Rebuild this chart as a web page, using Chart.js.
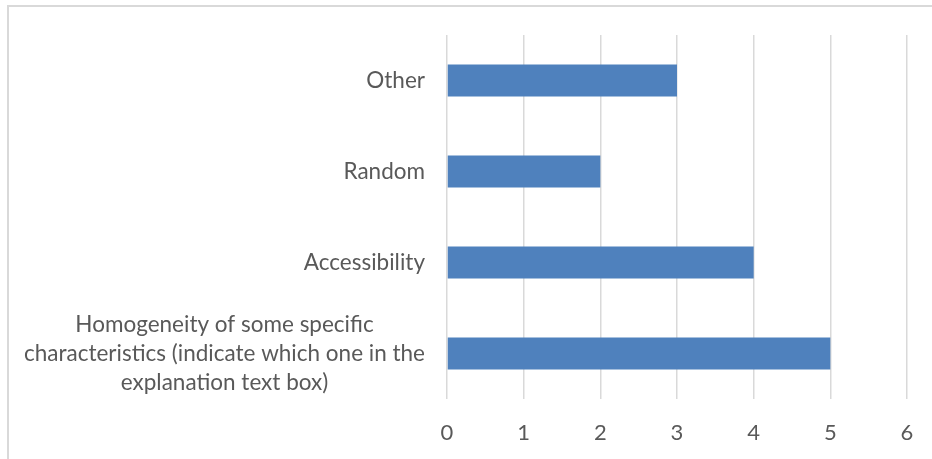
<!DOCTYPE html>
<html>
<head>
<meta charset="utf-8">
<script src="https://cdn.jsdelivr.net/npm/chart.js@4/dist/chart.umd.min.js"></script>
<style>
  html, body { margin: 0; padding: 0; background: #fff; }
  #wrap { width: 932px; height: 459px; position: relative; }
</style>
</head>
<body>
<div id="wrap"><canvas id="barChart" width="932" height="459"></canvas></div>
<script>
const categories = [
  'Other',
  'Random',
  'Accessibility',
  ['Homogeneity of some specific', 'characteristics (indicate which one in the', 'explanation text box)']
];
const counts = [3, 2, 4, 5];
const xTicks = [0, 1, 2, 3, 4, 5, 6];

const FONT = 'Lato, "Open Sans", sans-serif';
const TEXT = '#595959';
const GRID = '#d9d9d9';

// frame + centred multi-line category labels, like the office chart
const labelPlugin = {
  id: 'labels',
  beforeDraw(chart) {
    const ctx = chart.ctx;
    ctx.save();
    ctx.strokeStyle = GRID;
    ctx.lineWidth = 2;
    ctx.beginPath();
    ctx.moveTo(8, 459);
    ctx.lineTo(8, 6);
    ctx.lineTo(932, 6);
    ctx.stroke();
    ctx.restore();
  },
  afterDraw(chart) {
    const ctx = chart.ctx;
    const y = chart.scales.y;
    const right = chart.chartArea.left - 22;
    ctx.save();
    ctx.font = '22.5px ' + FONT;
    ctx.fillStyle = TEXT;
    ctx.textAlign = 'center';
    ctx.textBaseline = 'middle';
    const lineH = 29;
    categories.forEach((lab, i) => {
      const lines = Array.isArray(lab) ? lab : [lab];
      const w = Math.max(...lines.map(l => ctx.measureText(l).width));
      const cx = right - w / 2;
      const cy = y.getPixelForTick(i);
      lines.forEach((l, k) => {
        ctx.fillText(l, cx, cy + (k - (lines.length - 1) / 2) * lineH);
      });
    });
    ctx.restore();
  }
};

chart = new Chart(document.getElementById('barChart').getContext('2d'), {
  type: 'bar',
  data: {
    labels: categories,
    datasets: [{
      data: counts,
      backgroundColor: '#4f81bd',
      borderWidth: 0,
      barPercentage: 1,
      categoryPercentage: 0.35
    }]
  },
  options: {
    indexAxis: 'y',
    responsive: false,
    animation: false,
    layout: { padding: { top: 35, right: 25, left: 0, bottom: 0 } },
    plugins: {
      legend: { display: false },
      tooltip: { enabled: false }
    },
    scales: {
      x: {
        min: xTicks[0],
        max: xTicks[xTicks.length - 1],
        afterBuildTicks: s => { s.ticks = xTicks.map(v => ({ value: v })); },
        border: { display: false },
        grid: { color: GRID, lineWidth: 1.5, drawTicks: false },
        ticks: {
          color: TEXT,
          font: { family: FONT, size: 22 },
          padding: 21
        },
        afterFit: s => { s.height = 60; s.paddingLeft = 0; s.paddingRight = 0; }
      },
      y: {
        border: { display: false },
        grid: { display: false, drawTicks: false },
        ticks: { display: false },
        afterFit: s => { s.width = 447; }
      }
    }
  },
  plugins: [labelPlugin]
});
</script>
</body>
</html>
